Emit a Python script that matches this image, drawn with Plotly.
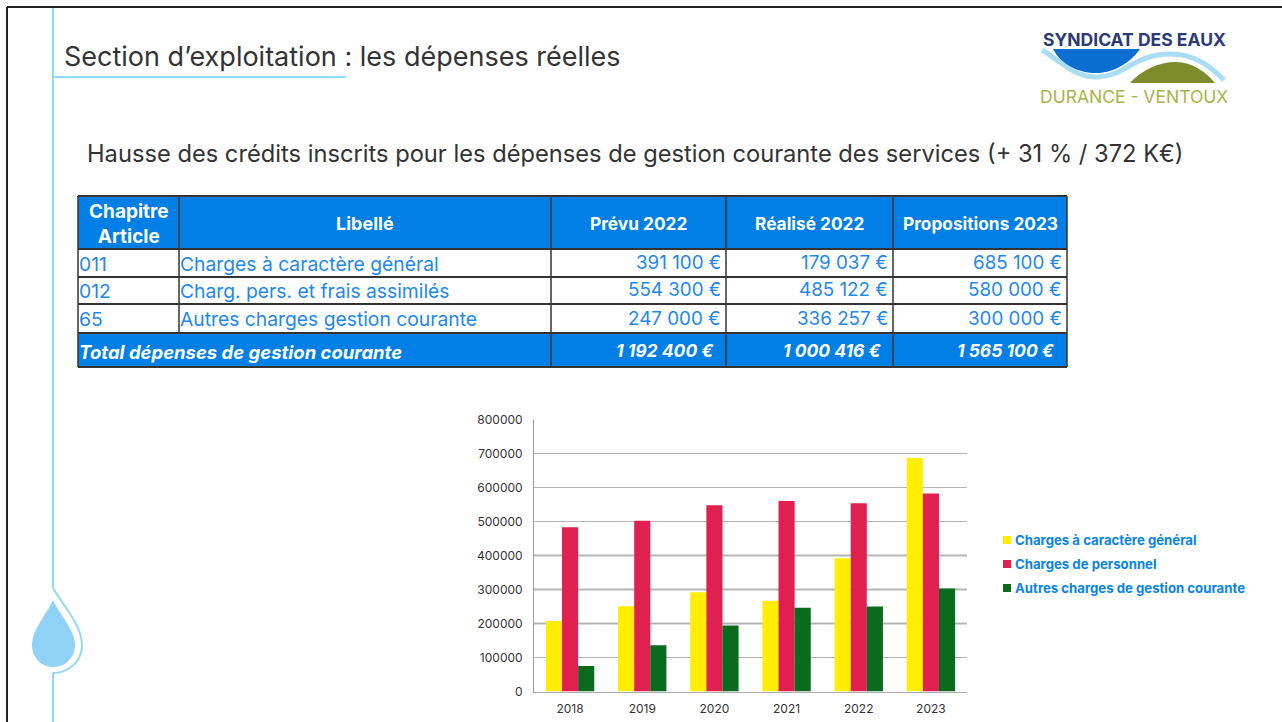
import plotly.graph_objects as go

W, H = 1282, 722

# ---------- data ----------
title = "Section d’exploitation : les dépenses réelles"
subtitle = "Hausse des crédits inscrits pour les dépenses de gestion courante des services (+ 31 % / 372 K€)"
logo_top = "SYNDICAT DES EAUX"
logo_bottom = "DURANCE - VENTOUX"

table_header = ["Chapitre<br>Article", "Libellé", "Prévu 2022", "Réalisé 2022", "Propositions 2023"]
table_codes = ["011", "012", "65"]
table_labels = ["Charges à caractère général", "Charg. pers. et frais assimilés", "Autres charges gestion courante"]
prevu_2022 = ["391 100 €", "554 300 €", "247 000 €"]
realise_2022 = ["179 037 €", "485 122 €", "336 257 €"]
propositions_2023 = ["685 100 €", "580 000 €", "300 000 €"]
total_label = "Total dépenses de gestion courante"
total_values = ["1 192 400 €", "1 000 416 €", "1 565 100 €"]

years = ["2018", "2019", "2020", "2021", "2022", "2023"]
charges_generales = [207000, 251000, 292000, 267000, 392000, 687000]
charges_personnel = [483000, 502000, 548000, 560000, 554000, 582000]
autres_charges = [75000, 136000, 194000, 246000, 250000, 303000]
series_names = ["Charges à caractère général", "Charges de personnel", "Autres charges de gestion courante"]
series_colors = ["#ffee00", "#e0204f", "#0a6a1e"]

# ---------- helpers ----------
FONT = "Inter, 'DejaVu Sans', sans-serif"
px = lambda x: x / W
py = lambda y: 1 - y / H
shapes, annots = [], []


def line(x0, y0, x1, y1, color, width):
    shapes.append(dict(type="line", xref="paper", yref="paper", x0=px(x0), y0=py(y0), x1=px(x1), y1=py(y1),
                       line=dict(color=color, width=width)))


def rect(x0, y0, x1, y1, color):
    shapes.append(dict(type="rect", xref="paper", yref="paper", x0=px(x0), y0=py(y0), x1=px(x1), y1=py(y1),
                       fillcolor=color, line=dict(width=0)))


def path(segments, fill=None, stroke=None, width=0):
    d = ""
    for cmd, pts in segments:
        d += cmd + " ".join(f"{px(a):.5f},{py(b):.5f}" for a, b in pts) + " "
    if fill:
        d += "Z"
    shapes.append(dict(type="path", xref="paper", yref="paper", path=d,
                       fillcolor=fill if fill else "rgba(0,0,0,0)",
                       line=dict(color=stroke if stroke else "rgba(0,0,0,0)", width=width)))


def text(x, y, s, size, color, anchor="left", bold=False, italic=False):
    if bold:
        s = f"<b>{s}</b>"
    if italic:
        s = f"<i>{s}</i>"
    annots.append(dict(xref="paper", yref="paper", x=px(x), y=py(y), text=s, showarrow=False,
                       xanchor=anchor, yanchor="middle", borderpad=0,
                       font=dict(family=FONT, size=size, color=color)))


# ---------- slide frame ----------
line(7, 7, 1282, 7, "#222222", 2)
line(7, 7, 7, 722, "#222222", 2)
line(53, 8, 53, 588, "#93d8f2", 2)
line(53, 673, 53, 722, "#93d8f2", 2)
line(53, 77, 346, 77, "#8edcf5", 2)
path([("M", [(53, 588)]), ("C", [(62, 604), (82, 625), (82, 645)]), ("C", [(82, 662), (68, 673), (53, 673)])],
     stroke="#93d8f2", width=2)
path([("M", [(53, 600)]), ("C", [(46, 615), (32, 630), (32, 645)]), ("C", [(32, 658), (42, 667), (53, 667)]),
      ("C", [(65, 667), (75, 658), (75, 645)]), ("C", [(75, 630), (60, 615), (53, 600)])], fill="#90d2f6")

# ---------- titles ----------
text(63, 56, title, 27, "#333333")
text(86, 154, subtitle, 23.7, "#333333")

# ---------- logo ----------
path([("M", [(1042, 50)]), ("C", [(1062, 62), (1075, 78), (1098, 77)]), ("C", [(1125, 76), (1135, 54), (1170, 54)]),
      ("C", [(1195, 54), (1210, 66), (1224, 80)])], stroke="#a9ddf3", width=5)
path([("M", [(1053, 49)]), ("L", [(1140, 49)]), ("C", [(1128, 66), (1110, 73), (1096, 73)]),
      ("C", [(1080, 73), (1062, 66), (1053, 49)])], fill="#0a6fd0")
path([("M", [(1130, 83)]), ("C", [(1142, 70), (1158, 62), (1176, 62)]), ("C", [(1192, 62), (1206, 72), (1215, 83)])],
     fill="#7f8a2a")
text(1134, 39, logo_top, 17.5, "#2b3a78", anchor="center", bold=True)
text(1134, 97, logo_bottom, 17.5, "#a9b347", anchor="center")

# ---------- table ----------
col_x = [78, 179, 551, 726, 893, 1067]
row_y = [196, 249, 277, 304, 333, 367]
BLUE, TXT, EDGE = "#0080e6", "#1e88ee", "#333333"
rect(col_x[0], row_y[0], col_x[-1], row_y[1], BLUE)
rect(col_x[0], row_y[4], col_x[-1], row_y[5], BLUE)
for y in row_y:
    line(col_x[0], y, col_x[-1], y, EDGE, 2)
for i, x in enumerate(col_x):
    y_bot = row_y[4] if i == 1 else row_y[5]
    line(x, row_y[0], x, y_bot, EDGE, 1.5)

header_sizes = [19, 18, 17.3, 17.3, 17.3]
for i, h in enumerate(table_header):
    text((col_x[i] + col_x[i + 1]) / 2, 224, h, header_sizes[i], "white", anchor="center", bold=True)
for r in range(3):
    yc = (row_y[r + 1] + row_y[r + 2]) / 2 + 0.5
    text(col_x[0], yc, table_codes[r], 19.3, TXT)
    text(col_x[1], yc, table_labels[r], 19.3, TXT)
    for c, col in enumerate([prevu_2022, realise_2022, propositions_2023]):
        text(col_x[c + 3] - 4, yc - 1, col[r], 18.8, TXT, anchor="right")
text(col_x[0], 352, total_label, 18.5, "white", bold=True, italic=True)
for c, v in enumerate(total_values):
    text(col_x[c + 3] - 11, 350, v, 17.5, "white", anchor="right", bold=True, italic=True)

# ---------- legend ----------
for y, n, col in zip([540, 564, 588], series_names, series_colors):
    rect(1003, y - 4, 1011, y + 4, col)
    text(1014, y, n, 13.2, "#0a84e8", bold=True)

# ---------- chart ----------
fig = go.Figure()
for name, vals, col in zip(series_names, [charges_generales, charges_personnel, autres_charges], series_colors):
    fig.add_bar(x=years, y=vals, name=name, marker=dict(color=col, line=dict(width=0)))

for v in [200000, 300000, 400000]:
    shapes.append(dict(type="line", xref="x domain", yref="y", x0=0, x1=1, y0=v, y1=v, layer="below",
                       line=dict(color="#6f6f6f", width=1.5)))

fig.update_layout(
    width=W, height=H, autosize=False, showlegend=False,
    margin=dict(l=0, r=0, t=0, b=0, pad=0),
    paper_bgcolor="white", plot_bgcolor="white",
    barmode="group", bargap=0.33, bargroupgap=0,
    font=dict(family=FONT, size=12, color="#333333"),
    shapes=shapes, annotations=annots,
    xaxis=dict(domain=[px(534), px(967)], type="category", automargin=False, showgrid=False, showline=True,
               linecolor="#aaaaaa", ticks="outside", ticklen=6, tickcolor="rgba(0,0,0,0)",
               tickfont=dict(size=12, color="#333333")),
    yaxis=dict(domain=[py(691.5), py(419.5)], range=[0, 800000], dtick=100000, tickformat="d", automargin=False,
               showgrid=True, gridcolor="#b4b4b4", gridwidth=1, zeroline=False,
               showline=True, linecolor="#999999", ticks="outside", ticklen=8, tickcolor="rgba(0,0,0,0)",
               tickfont=dict(size=12, color="#333333")),
)

fig.write_html("out.html", config=dict(displayModeBar=False),
               post_script="document.body.style.margin='0';document.body.style.overflow='hidden';")
